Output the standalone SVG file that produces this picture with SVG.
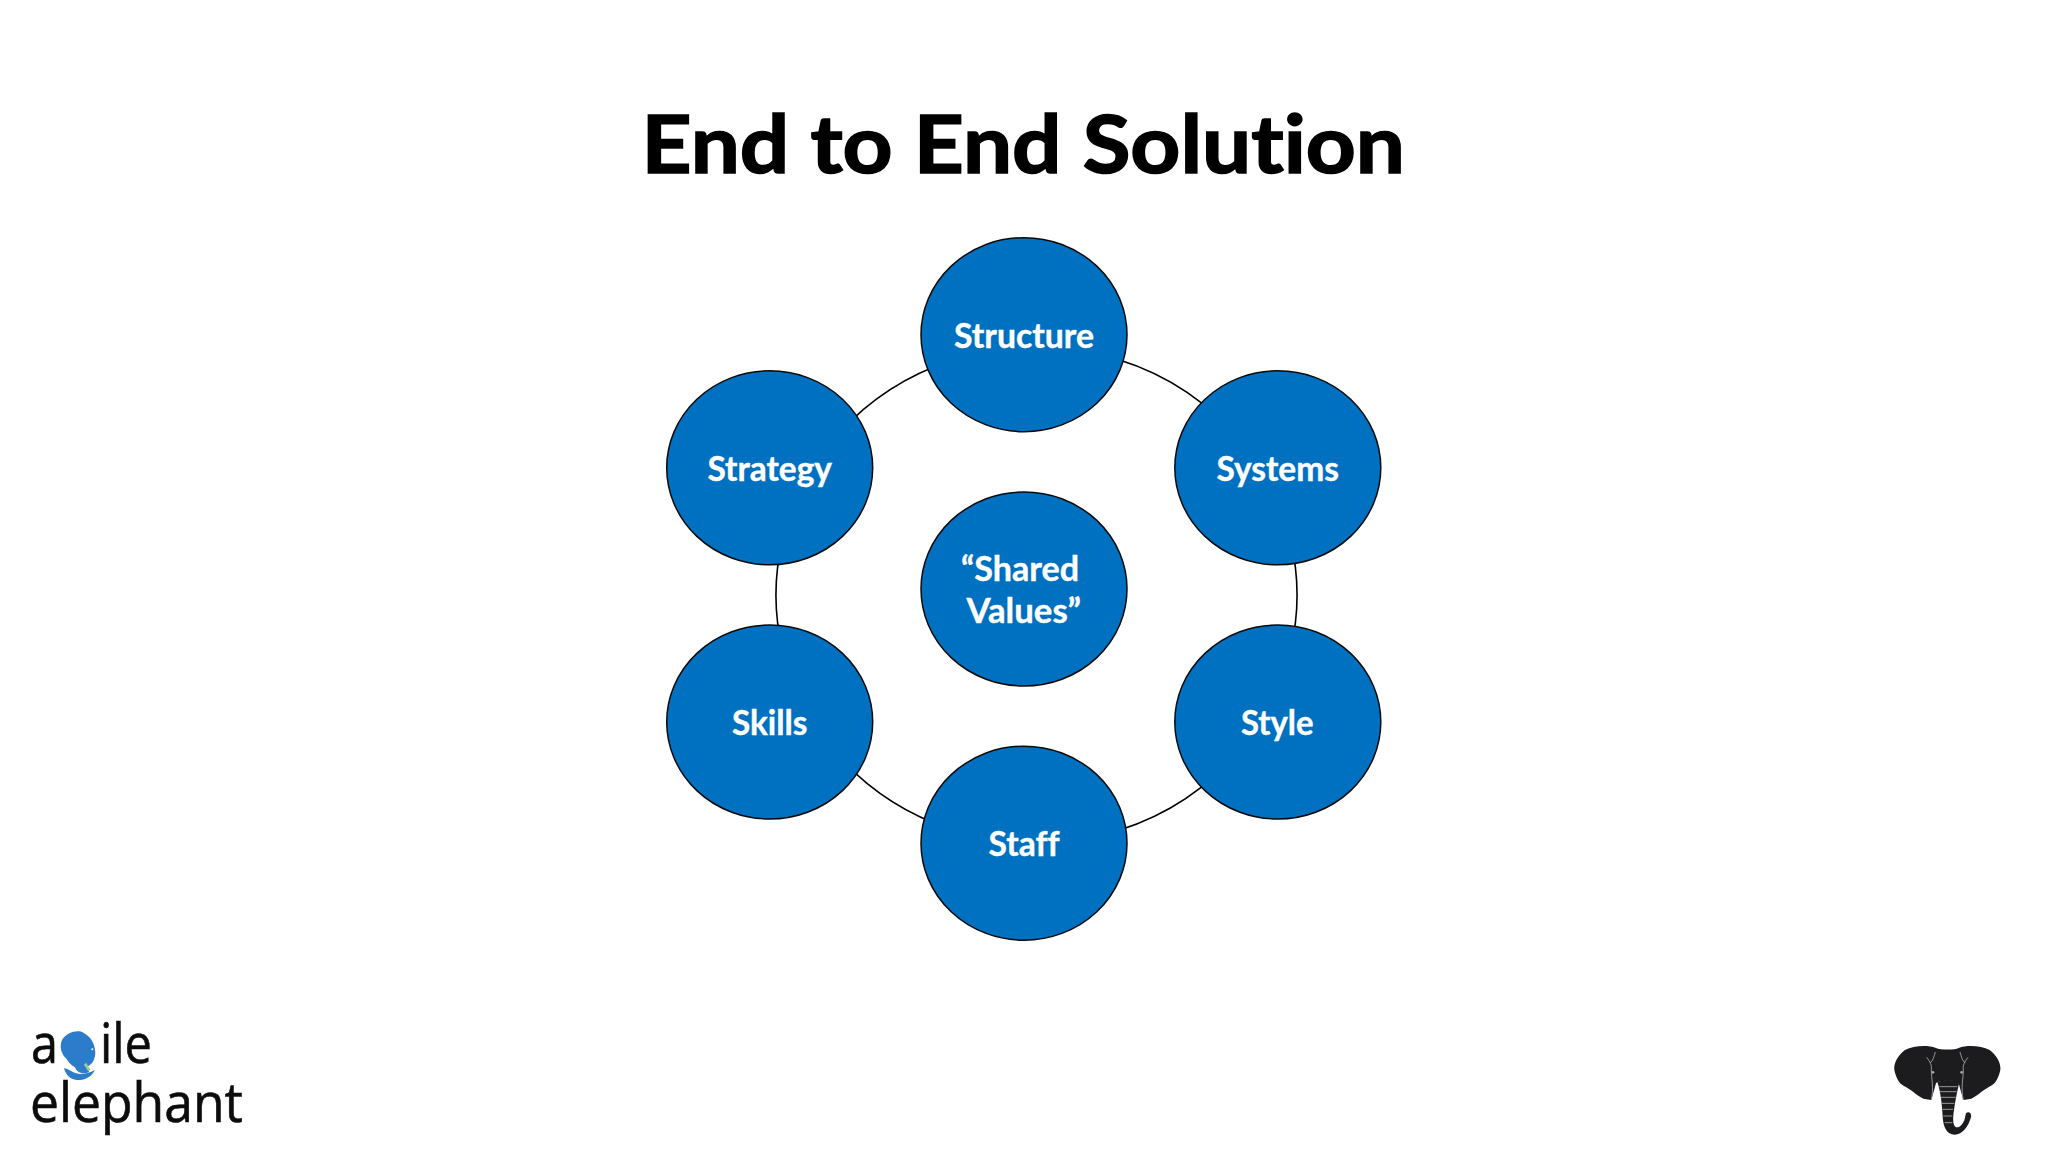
<svg xmlns="http://www.w3.org/2000/svg" width="2048" height="1152" viewBox="0 0 2048 1152">
<style>
text{font-family:"Lato","Carlito","Open Sans",sans-serif;font-variant-ligatures:none}
.title{font-size:81px;font-weight:700;fill:#000;stroke:#000;stroke-width:1.6}
.n{fill:#0070c0;stroke:#0a0a0a;stroke-width:1.5}
.l{font-size:33.5px;font-weight:700;fill:#fff;stroke:#fff;stroke-width:.4}
.c{fill:none;stroke:#000;stroke-width:1.6}
.logo{font-family:"Open Sans",sans-serif;font-size:54px;fill:#0c0c0c;stroke:#0c0c0c;stroke-width:.6}
.stripe{fill:none;stroke:#9a9a9a;stroke-width:3}
</style>
<rect width="2048" height="1152" fill="#fff"/>
<text class="title" x="641.5" y="173" textLength="763.5" lengthAdjust="spacingAndGlyphs">End to End Solution</text>
<g id="connectors">
<path class="c" d="M840 432.2A260.5 248 0 0 1 950 361.1"/>
<path class="c" d="M1100 354.5A260.5 248 0 0 1 1230 429"/>
<path class="c" d="M1290.5 540A260.5 248 0 0 1 1290.5 650"/>
<path class="c" d="M1230 761A260.5 248 0 0 1 1100 835.5"/>
<path class="c" d="M950 828.9A260.5 248 0 0 1 840 757.8"/>
<path class="c" d="M782.5 650A260.5 248 0 0 1 782.5 540"/>
</g>
<g id="structure"><ellipse class="n" cx="1024" cy="334.7" rx="103" ry="97"/><text class="l" x="954" y="348" textLength="140" lengthAdjust="spacingAndGlyphs">Structure</text></g>
<g id="systems"><ellipse class="n" cx="1277.8" cy="467.8" rx="103" ry="97"/><text class="l" x="1216.5" y="481" textLength="122.5" lengthAdjust="spacingAndGlyphs">Systems</text></g>
<g id="style"><ellipse class="n" cx="1277.8" cy="722" rx="103" ry="97"/><text class="l" x="1241" y="735.3" textLength="72.5" lengthAdjust="spacingAndGlyphs">Style</text></g>
<g id="staff"><ellipse class="n" cx="1024" cy="843.2" rx="103" ry="97"/><text class="l" x="988.5" y="856" textLength="71" lengthAdjust="spacingAndGlyphs">Staff</text></g>
<g id="skills"><ellipse class="n" cx="769.7" cy="722" rx="103" ry="97"/><text class="l" x="732" y="735.3" textLength="75.5" lengthAdjust="spacingAndGlyphs">Skills</text></g>
<g id="strategy"><ellipse class="n" cx="769.7" cy="467.8" rx="103" ry="97"/><text class="l" x="707.5" y="481" textLength="124.5" lengthAdjust="spacingAndGlyphs">Strategy</text></g>
<g id="shared-values"><ellipse class="n" cx="1024" cy="589" rx="103" ry="97"/><text class="l" x="961" y="580.8" textLength="118" lengthAdjust="spacingAndGlyphs">“Shared</text><text class="l" x="966.5" y="623" textLength="114.5" lengthAdjust="spacingAndGlyphs">Values”</text></g>
<g id="agile-elephant-logo">
<text class="logo" x="31" y="1062.7" textLength="27" lengthAdjust="spacingAndGlyphs">a</text>
<text class="logo" x="100" y="1062.7" textLength="52" lengthAdjust="spacingAndGlyphs">ile</text>
<text class="logo" x="30" y="1122.3" textLength="213" lengthAdjust="spacingAndGlyphs">elephant</text>
<g transform="translate(0 990) scale(.3333)">
<path fill="#2b7ccb" d="M186 150C200 125 235 118 250 128C270 138 286 160 286 190C284 215 272 228 258 230L268 246C250 254 232 250 225 232C212 226 205 214 198 205C183 190 178 170 186 150Z"/>
<path fill="#2b7ccb" d="M192 235C205 235 215 250 240 252C255 252 270 248 285 240C275 262 250 272 230 270C210 268 198 255 192 235Z"/>
<path fill="#a9c98f" d="M258 218L272 240L264 243L252 224Z"/>
<circle cx="277" cy="178" r="3" fill="#fff"/>
</g>
</g>
<g id="elephant-icon" transform="translate(1860 1020) scale(.3333)">
<path fill="#1c1c1e" d="M228 84C200 74 160 78 135 90C115 105 100 130 103 150C108 172 116 190 132 198C150 206 170 226 190 236L214 240L228 190C232 180 292 180 296 190L310 240L334 236C354 226 374 206 392 198C408 190 416 172 421 150C424 130 409 105 389 90C364 78 324 74 296 84C285 90 240 90 228 84Z"/>
<path fill="#1c1c1e" d="M232 186C250 178 282 178 298 186C294 205 286 240 282 270C278 295 278 316 288 322C302 324 314 306 316 288L318 280C326 272 336 280 333 292C324 322 308 343 284 344C260 343 250 322 248 290C246 255 242 215 232 186Z"/>
<path class="stripe" d="M200 112C210 125 216 135 214 150C214 175 222 205 214 240M226 96C222 110 218 125 210 128M300 96C304 110 308 125 316 128M324 112C314 125 308 135 310 150C310 175 302 205 310 240"/>
<path class="stripe" stroke-width="2" d="M238 200H292M240 215H290M243 232H287M245 250H283M247 268H279M250 288H277M254 308H277"/>
<circle cx="219" cy="157" r="4" fill="#aaa"/><circle cx="305" cy="157" r="4" fill="#aaa"/>
</g>
</svg>
